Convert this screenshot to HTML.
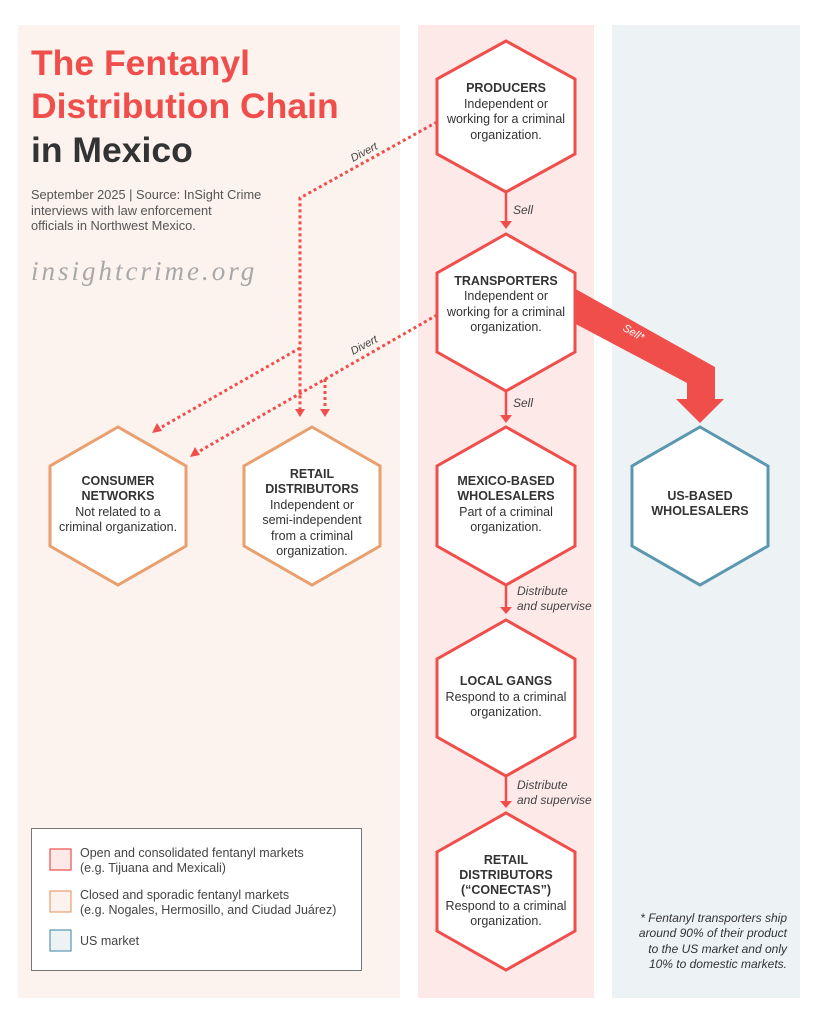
<!DOCTYPE html>
<html><head><meta charset="utf-8"><style>
body{margin:0;background:#fff}
svg{display:block;font-family:"Liberation Sans",sans-serif}
</style></head><body>
<svg width="819" height="1024" viewBox="0 0 819 1024" xmlns="http://www.w3.org/2000/svg">
<rect x="18" y="25" width="382" height="973" fill="#fcf2ee"/>
<rect x="418" y="25" width="176" height="973" fill="#fde9e8"/>
<rect x="612" y="25" width="188" height="973" fill="#edf2f5"/>

<text x="31" y="75" font-size="35.5" font-weight="bold" fill="#f04e4b">The Fentanyl</text>
<text x="31" y="118" font-size="35.5" font-weight="bold" fill="#f04e4b">Distribution Chain</text>
<text x="31" y="162" font-size="35.5" font-weight="bold" fill="#333">in Mexico</text>
<g font-size="12.8" fill="#555">
<text x="31" y="199">September 2025 | Source: InSight Crime</text>
<text x="31" y="215">interviews with law enforcement</text>
<text x="31" y="230">officials in Northwest Mexico.</text>
</g>
<text x="31" y="280" font-family="Liberation Serif,serif" font-style="italic" font-size="27" letter-spacing="3" fill="#a8a8a8">insightcrime.org</text>

<g stroke="#f04e4b" stroke-width="3" stroke-dasharray="3,3" fill="none">
<polyline points="437,122 300,198 300,410"/>
<line x1="300" y1="348" x2="160" y2="428"/>
<line x1="437" y1="315" x2="198" y2="452"/>
<line x1="325" y1="379" x2="325" y2="410"/>
</g>
<g fill="#f04e4b">
<polygon points="295,409 305,409 300,417"/>
<polygon points="320,409 330,409 325,417"/>
<polygon points="152,433 157,423 162,431"/>
<polygon points="190,457 195,447 200,455"/>
</g>
<g font-size="11" font-style="italic" fill="#444">
<text x="353" y="162" transform="rotate(-28 353 162)">Divert</text>
<text x="353" y="355" transform="rotate(-28 353 355)">Divert</text>
</g>

<polygon points="572,287 715,367 715,399 724,399 700,423 676,399 687,399 687,383 572,322" fill="#f04e4b"/>
<text x="622" y="330" font-size="11" font-style="italic" fill="#fff" transform="rotate(30 622 330)">Sell*</text>

<g stroke="#f04e4b" stroke-width="2.5">
<line x1="506" y1="192" x2="506" y2="222"/>
<line x1="506" y1="391" x2="506" y2="416"/>
<line x1="506" y1="585" x2="506" y2="608"/>
<line x1="506" y1="776" x2="506" y2="802"/>
</g>
<g fill="#f04e4b">
<polygon points="500,221 512,221 506,229"/>
<polygon points="500,415 512,415 506,423"/>
<polygon points="500,607 512,607 506,614"/>
<polygon points="500,801 512,801 506,808"/>
</g>
<g font-size="12" font-style="italic" fill="#444">
<text x="513" y="214">Sell</text>
<text x="513" y="407">Sell</text>
<text x="517" y="595">Distribute</text>
<text x="517" y="610">and supervise</text>
<text x="517" y="789">Distribute</text>
<text x="517" y="804">and supervise</text>
</g>

<g stroke-width="3" fill="#fff" stroke-linejoin="miter">
<polygon stroke="#f04e4b" points="506,41 575,79 575,154 506,192 437,154 437,79"/>
<polygon stroke="#f04e4b" points="506,234 575,273 575,352 506,391 437,352 437,273"/>
<polygon stroke="#f04e4b" points="506,427 575,466 575,546 506,585 437,546 437,466"/>
<polygon stroke="#f04e4b" points="506,620 575,659 575,737 506,776 437,737 437,659"/>
<polygon stroke="#f04e4b" points="506,813 575,852 575,931 506,970 437,931 437,852"/>
<polygon stroke="#e99f6e" points="118,427 186,466 186,546 118,585 50,546 50,466"/>
<polygon stroke="#e99f6e" points="312,427 380,466 380,546 312,585 244,546 244,466"/>
<polygon stroke="#5b97b0" points="700,427 768,466 768,546 700,585 632,546 632,466"/>
</g>

<g font-size="12.5" fill="#333" text-anchor="middle">
<g font-weight="bold">
<text x="506" y="92">PRODUCERS</text>
<text x="506" y="285">TRANSPORTERS</text>
<text x="506" y="485">MEXICO-BASED</text><text x="506" y="500">WHOLESALERS</text>
<text x="506" y="685">LOCAL GANGS</text>
<text x="506" y="864">RETAIL</text><text x="506" y="879">DISTRIBUTORS</text><text x="506" y="894">(“CONECTAS”)</text>
<text x="118" y="485">CONSUMER</text><text x="118" y="500">NETWORKS</text>
<text x="312" y="478">RETAIL</text><text x="312" y="493">DISTRIBUTORS</text>
<text x="700" y="500">US-BASED</text><text x="700" y="515">WHOLESALERS</text>
</g>
<text x="506" y="108">Independent or</text><text x="506" y="123">working for a criminal</text><text x="506" y="139">organization.</text>
<text x="506" y="300">Independent or</text><text x="506" y="316">working for a criminal</text><text x="506" y="331">organization.</text>
<text x="506" y="516">Part of a criminal</text><text x="506" y="531">organization.</text>
<text x="506" y="701">Respond to a criminal</text><text x="506" y="716">organization.</text>
<text x="506" y="910">Respond to a criminal</text><text x="506" y="925">organization.</text>
<text x="118" y="516">Not related to a</text><text x="118" y="531">criminal organization.</text>
<text x="312" y="509">Independent or</text><text x="312" y="524">semi-independent</text><text x="312" y="540">from a criminal</text><text x="312" y="555">organization.</text>
</g>

<rect x="31.5" y="828.5" width="330" height="142" fill="#fff" stroke="#777" stroke-width="1"/>
<rect x="50" y="849" width="21" height="21" fill="#fde9e8" stroke="#f04e4b" stroke-width="1.2"/>
<rect x="50" y="891" width="21" height="21" fill="#fcf2ee" stroke="#e99f6e" stroke-width="1.2"/>
<rect x="50" y="930" width="21" height="21" fill="#edf2f5" stroke="#5b97b0" stroke-width="1.2"/>
<g font-size="12.5" fill="#444">
<text x="80" y="857">Open and consolidated fentanyl markets</text>
<text x="80" y="872">(e.g. Tijuana and Mexicali)</text>
<text x="80" y="899">Closed and sporadic fentanyl markets</text>
<text x="80" y="914">(e.g. Nogales, Hermosillo, and Ciudad Juárez)</text>
<text x="80" y="945">US market</text>
</g>

<g font-size="12" font-style="italic" fill="#333" text-anchor="end">
<text x="787" y="922">* Fentanyl transporters ship</text>
<text x="787" y="937">around  90% of their product</text>
<text x="787" y="953">to the US market and only</text>
<text x="787" y="968">10% to domestic markets.</text>
</g>
</svg>
</body></html>
